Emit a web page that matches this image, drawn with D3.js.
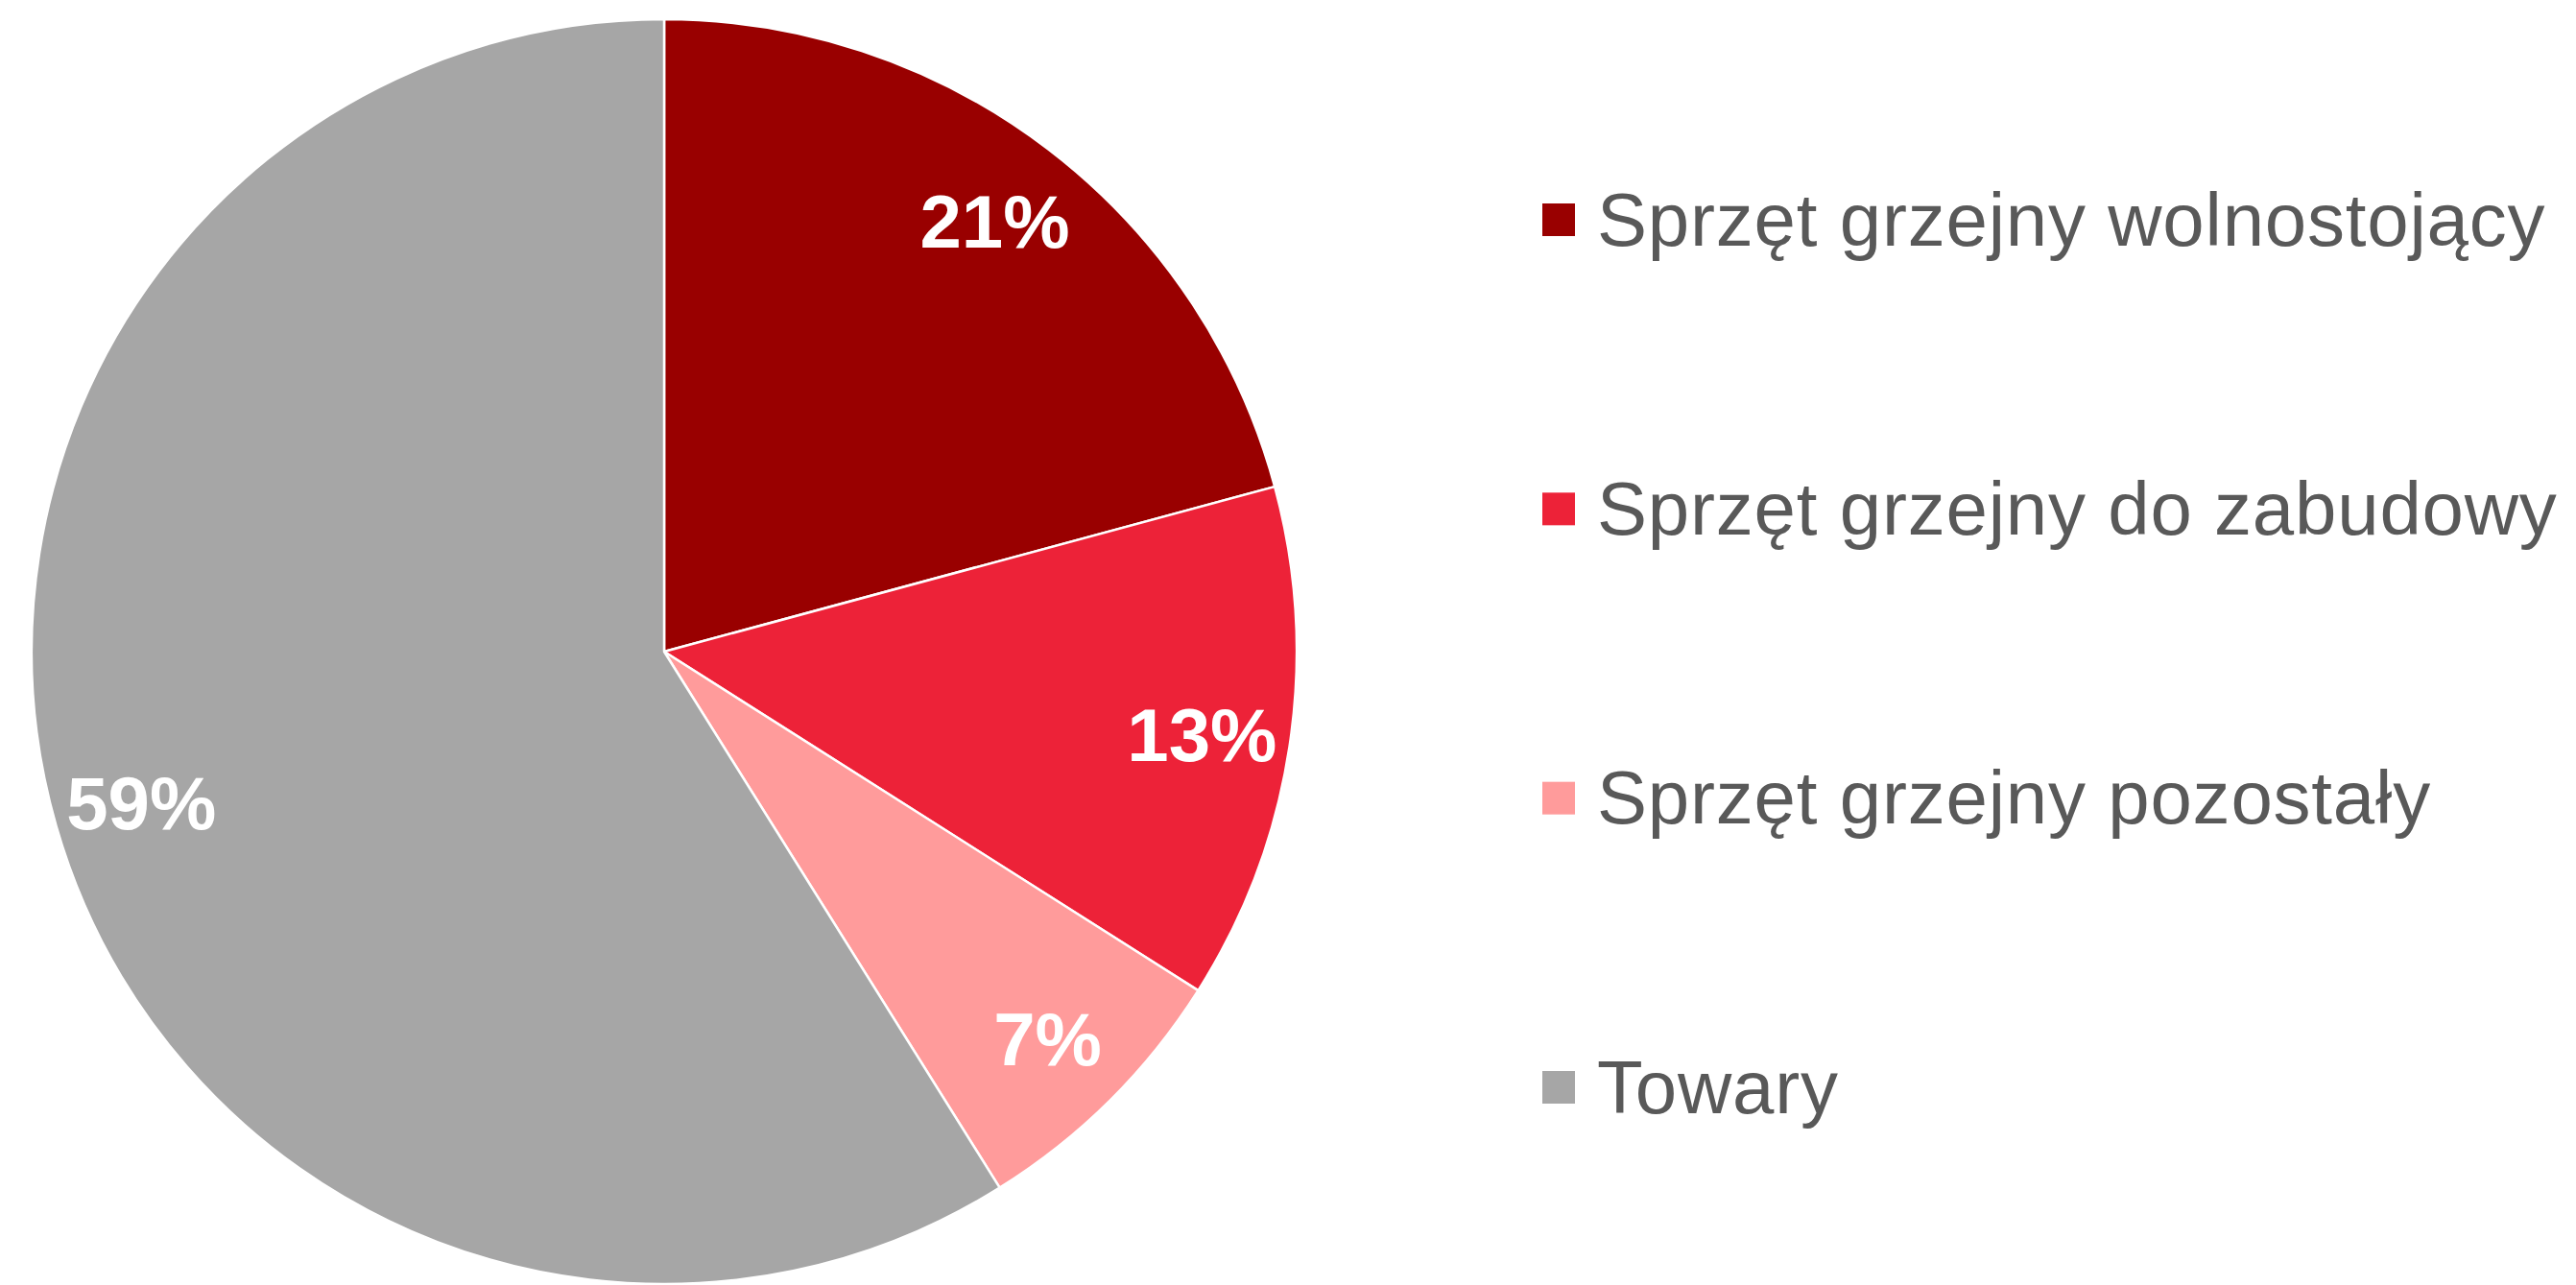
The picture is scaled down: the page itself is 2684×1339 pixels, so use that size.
<!DOCTYPE html>
<html lang="pl">
<head>
    <meta charset="UTF-8">
    <title>Struktura sprzedaży</title>
    <script src="https://cdnjs.cloudflare.com/ajax/libs/d3/7.8.5/d3.min.js"></script>
    <style>
        body {
            margin: 0;
            background: #ffffff;
            font-family: "Liberation Sans", Arial, sans-serif;
        }
    </style>
</head>
<body>
    <div id="chart"></div>

    <script>
        // Chart data
        const categories = [
            "Sprzęt grzejny wolnostojący",
            "Sprzęt grzejny do zabudowy",
            "Sprzęt grzejny pozostały",
            "Towary"
        ];
        const shares = [20.8, 13.2, 7.1, 58.9];
        const labels = ["21%", "13%", "7%", "59%"];
        const colors = ["#990000", "#ED2238", "#FF9B9B", "#A6A6A6"];

        const width = 2684;
        const height = 1339;

        const cx = 692, cy = 679, radius = 659;

        const svg = d3.select("#chart")
            .append("svg")
            .attr("width", width)
            .attr("height", height);

        const data = categories.map((c, i) => ({ name: c, value: shares[i], label: labels[i], color: colors[i] }));

        const pie = d3.pie()
            .value(d => d.value)
            .sort(null);

        const arc = d3.arc()
            .innerRadius(0)
            .outerRadius(radius);

        const labelArc = d3.arc()
            .innerRadius(radius * 0.86)
            .outerRadius(radius * 0.86);

        const g = svg.append("g")
            .attr("transform", `translate(${cx},${cy})`);

        const arcs = pie(data);

        // Slices
        g.selectAll("path")
            .data(arcs)
            .join("path")
            .attr("d", arc)
            .attr("fill", d => d.data.color)
            .attr("stroke", "#ffffff")
            .attr("stroke-width", 2.5)
            .attr("stroke-linejoin", "round");

        // Percentage labels
        g.selectAll("text.pct")
            .data(arcs)
            .join("text")
            .attr("class", "pct")
            .attr("transform", d => `translate(${labelArc.centroid(d)})`)
            .attr("text-anchor", "middle")
            .attr("dy", "0.37em")
            .attr("fill", "#ffffff")
            .attr("font-size", "78px")
            .attr("font-weight", "bold")
            .text(d => d.data.label);

        // Legend
        const legendY = d3.scalePoint()
            .domain(categories)
            .range([229, 1133]);

        const legend = svg.append("g")
            .selectAll("g")
            .data(data)
            .join("g")
            .attr("transform", d => `translate(1607,${legendY(d.name)})`);

        legend.append("rect")
            .attr("x", 0)
            .attr("y", -17)
            .attr("width", 34)
            .attr("height", 34)
            .attr("fill", d => d.color);

        legend.append("text")
            .attr("x", 57)
            .attr("y", 0)
            .attr("dy", "0.34em")
            .attr("fill", "#595959")
            .attr("font-size", "78px")
            .attr("letter-spacing", "0.8px")
            .text(d => d.name);
    </script>
</body>
</html>
